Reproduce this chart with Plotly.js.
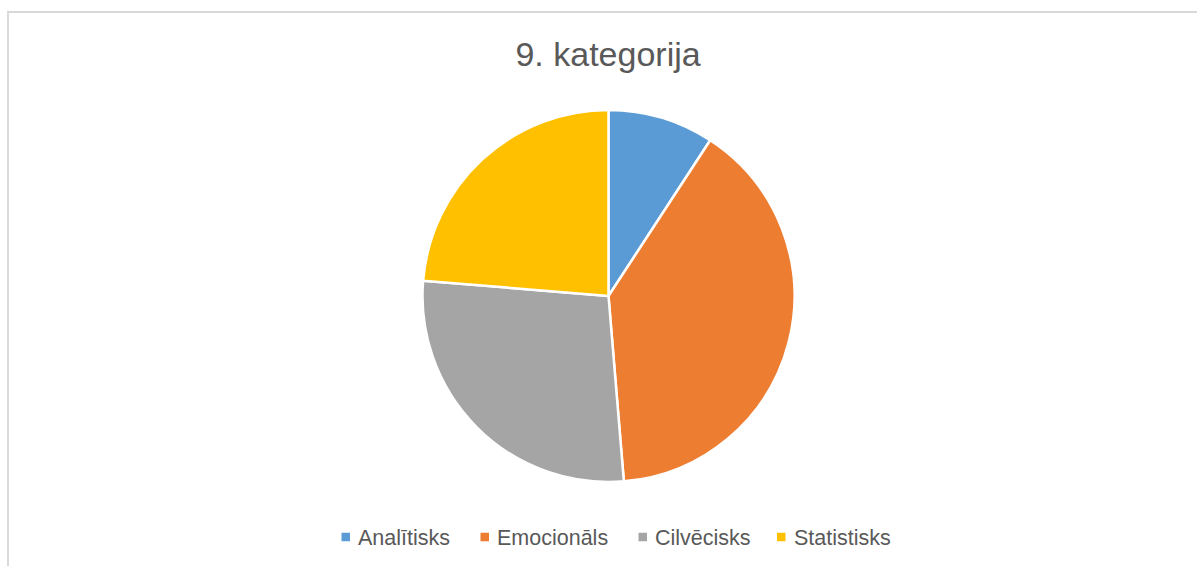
<!DOCTYPE html>
<html>
<head>
<meta charset="utf-8">
<script src="https://cdn.plot.ly/plotly-3.0.1.min.js"></script>
<style>
html,body{margin:0;padding:0;background:#fff;overflow:hidden;}
#frame{position:absolute;left:7px;top:11px;width:1300px;height:700px;border-left:2px solid #d9d9d9;border-top:2px solid #d9d9d9;}
#chart{position:absolute;left:0;top:0;width:1197px;height:566px;}
</style>
</head>
<body>
<div id="frame"></div>
<div id="chart"></div>
<script>
const categories = ["Analītisks", "Emocionāls", "Cilvēcisks", "Statistisks"];
const values = [7, 30, 21, 18];
const colors = ["#5B9BD5", "#ED7D31", "#A5A5A5", "#FFC000"];
const chartTitle = "9. kategorija";

const W = 1197, H = 566;
const cx = 608.5, cy = 296, r = 186;

// legend layout (pixel positions of each entry's square marker left edge)
const legendMarkerLeft = [341.5, 480.5, 638.5, 777];
const legendY = 537, markerSize = 8.5, markerGap = 7;
const legendFont = {family: "Liberation Sans, Arial, sans-serif", size: 21.5, color: "#595959"};

const data = [{
  type: "pie",
  labels: categories,
  values: values,
  sort: false,
  direction: "clockwise",
  rotation: 0,
  textinfo: "none",
  hoverinfo: "label+value+percent",
  showlegend: false,
  marker: {colors: colors, line: {color: "#ffffff", width: 2.5}},
  domain: {x: [(cx - r) / W, (cx + r) / W], y: [1 - (cy + r) / H, 1 - (cy - r) / H]}
}];

const shapes = [], annotations = [];
categories.forEach((c, i) => {
  const x0 = legendMarkerLeft[i];
  shapes.push({type: "rect", xref: "paper", yref: "paper",
    x0: x0 / W, x1: (x0 + markerSize) / W,
    y0: 1 - (legendY + markerSize / 2) / H, y1: 1 - (legendY - markerSize / 2) / H,
    fillcolor: colors[i], line: {width: 0}});
  annotations.push({xref: "paper", yref: "paper", x: (x0 + markerSize + markerGap) / W,
    y: 1 - (legendY + 1) / H, xanchor: "left", yanchor: "middle", showarrow: false,
    text: c, font: legendFont, borderpad: 0});
});

const layout = {
  width: W, height: H,
  margin: {l: 0, r: 0, t: 0, b: 0},
  paper_bgcolor: "rgba(0,0,0,0)",
  plot_bgcolor: "rgba(0,0,0,0)",
  title: {text: chartTitle, x: 0.508, xanchor: "center", y: 1 - 54.5 / H, yanchor: "middle",
          font: {family: "Liberation Sans, Arial, sans-serif", size: 34, color: "#595959"}},
  showlegend: false,
  shapes: shapes,
  annotations: annotations
};

Plotly.newPlot("chart", data, layout, {displayModeBar: false, staticPlot: true});
</script>
</body>
</html>
